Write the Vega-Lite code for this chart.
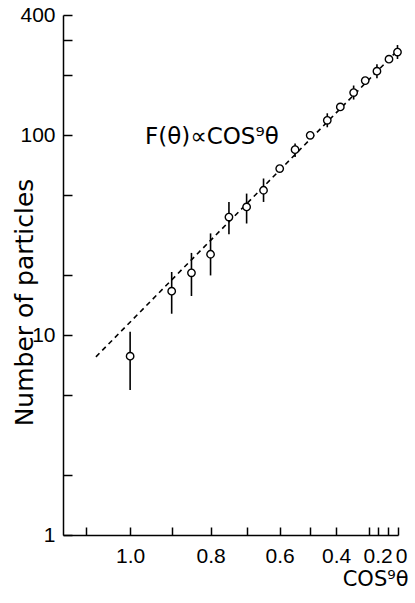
{
  "$schema": "https://vega.github.io/schema/vega-lite/v6.json",
  "autosize": {"type": "none"},
  "padding": {"left": 63, "top": 15, "right": 17, "bottom": 68},
  "width": 335,
  "height": 520,
  "background": "white",
  "config": {
    "view": {"stroke": null},
    "font": "DejaVu Sans",
    "axis": {
      "domainColor": "black", "domainWidth": 1.5, "tickColor": "black", "tickWidth": 1.5,
      "labelColor": "black", "titleColor": "black", "labelFont": "Liberation Sans", "titleFont": "DejaVu Sans",
      "labelFontSize": 21, "titleFontWeight": "normal", "grid": false, "labelOverlap": false, "labelFlush": false, "labelBound": false
    }
  },
  "resolve": {"axis": {"x": "independent", "y": "independent"}},
  "datasets": {
    "points": [
      {"x": 1.0, "y": 7.85, "lo": 5.31, "hi": 10.4},
      {"x": 0.9, "y": 16.6, "lo": 12.8, "hi": 20.7},
      {"x": 0.85, "y": 20.5, "lo": 15.7, "hi": 25.8},
      {"x": 0.8, "y": 25.4, "lo": 19.9, "hi": 32.3},
      {"x": 0.75, "y": 39.0, "lo": 32.0, "hi": 46.4},
      {"x": 0.7, "y": 43.8, "lo": 36.2, "hi": 51.1},
      {"x": 0.65, "y": 53.1, "lo": 46.4, "hi": 60.8},
      {"x": 0.6, "y": 68.2, "lo": 68.2, "hi": 68.2},
      {"x": 0.55, "y": 84.8, "lo": 77.9, "hi": 90.9},
      {"x": 0.498, "y": 100, "lo": 100, "hi": 100},
      {"x": 0.435, "y": 118.9, "lo": 109.7, "hi": 128.9},
      {"x": 0.383, "y": 138.7, "lo": 138.7, "hi": 138.7},
      {"x": 0.325, "y": 163.7, "lo": 151, "hi": 177.5},
      {"x": 0.269, "y": 187.8, "lo": 187.8, "hi": 187.8},
      {"x": 0.204, "y": 209.4, "lo": 193, "hi": 227},
      {"x": 0.12, "y": 240.4, "lo": 240.4, "hi": 240.4},
      {"x": 0.02, "y": 261, "lo": 241, "hi": 283}
    ],
    "fit": [
      {"x": 1.078, "y": 7.79},
      {"x": 0.051, "y": 260}
    ],
    "note": [
      {"x": 0.965, "y": 91, "label": "F(θ)∝COS⁹θ"}
    ]
  },
  "layer": [
    {
      "data": {"name": "fit"},
      "mark": {"type": "line", "color": "black", "strokeWidth": 1.6, "strokeDash": [5, 4]},
      "encoding": {
        "x": {"field": "x", "type": "quantitative", "axis": null, "scale": {"type": "pow", "exponent": 1.6, "domain": [0, 1.15], "reverse": true, "nice": false, "zero": false}},
        "y": {"field": "y", "type": "quantitative", "axis": null, "scale": {"type": "log", "domain": [1, 400], "nice": false}}
      }
    },
    {
      "data": {"name": "points"},
      "mark": {"type": "rule", "color": "black", "strokeWidth": 1.6},
      "encoding": {
        "x": {"field": "x", "type": "quantitative", "scale": {"type": "pow", "exponent": 1.6, "domain": [0, 1.15], "reverse": true, "nice": false, "zero": false},
          "axis": {"orient": "bottom", "title": "COS⁹θ", "titleFontSize": 21, "titleX": 345, "titleY": 50, "titleAlign": "right", "titleBaseline": "alphabetic",
            "values": [1.0, 0.8, 0.6, 0.4, 0.2, 0], "ticks": false, "labelPadding": 10,
            "labelOffset": {"condition": {"test": "datum.value == 0", "value": 3}, "value": 0},
            "labelExpr": "datum.value == 0 ? '0' : format(datum.value, '.1f')"}},
        "y": {"field": "lo", "type": "quantitative", "scale": {"type": "log", "domain": [1, 400], "nice": false},
          "axis": {"orient": "left", "title": "Number of particles", "titleFontSize": 25, "titleX": -31, "titleY": 287, "titleAlign": "center", "titleBaseline": "alphabetic", "titleAngle": -90,
            "values": [1, 10, 100, 400], "ticks": false, "labelPadding": 8,
            "labelExpr": "format(datum.value, 'd')"}},
        "y2": {"field": "hi"}
      }
    },
    {
      "data": {"name": "points"},
      "mark": {"type": "point", "shape": "circle", "filled": true, "fill": "white", "stroke": "black", "strokeWidth": 1.4, "size": 55, "opacity": 1},
      "encoding": {
        "x": {"field": "x", "type": "quantitative", "scale": {"type": "pow", "exponent": 1.6, "domain": [0, 1.15], "reverse": true, "nice": false, "zero": false},
          "axis": {"orient": "bottom", "title": null, "labels": false, "domain": false, "ticks": true, "tickSize": 8, "offset": -8,
            "values": [1.1, 1.0, 0.9, 0.8, 0.7, 0.6, 0.5, 0.4, 0.25, 0.2, 0.13, 0]}},
        "y": {"field": "y", "type": "quantitative", "scale": {"type": "log", "domain": [1, 400], "nice": false},
          "axis": {"orient": "left", "title": null, "labels": false, "domain": false, "ticks": true, "tickSize": 9, "offset": -9,
            "values": [1, 2, 5, 10, 20, 50, 100, 200, 300, 400]}}
      }
    },
    {
      "data": {"name": "note"},
      "mark": {"type": "text", "align": "left", "baseline": "alphabetic", "fontSize": 23, "font": "DejaVu Sans", "color": "black"},
      "encoding": {
        "x": {"field": "x", "type": "quantitative", "axis": null, "scale": {"type": "pow", "exponent": 1.6, "domain": [0, 1.15], "reverse": true, "nice": false, "zero": false}},
        "y": {"field": "y", "type": "quantitative", "axis": null, "scale": {"type": "log", "domain": [1, 400], "nice": false}},
        "text": {"field": "label"}
      }
    }
  ]
}
